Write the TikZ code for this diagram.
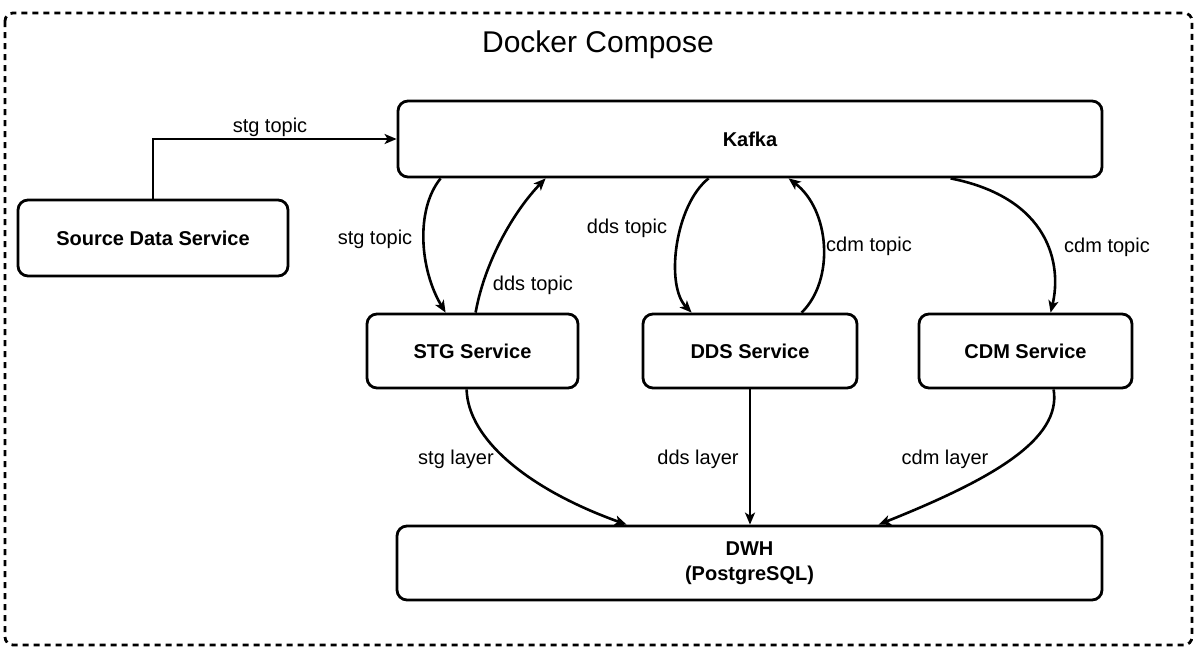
\documentclass[tikz,border=0pt]{standalone}
\usepackage{fontspec}
\setmainfont{Liberation Sans}
\usetikzlibrary{arrows.meta,calc}
\begin{document}
\begin{tikzpicture}[x=1pt,y=-1pt,
  box/.style={draw, line width=2.8pt, rounded corners=10pt, inner sep=0pt,
    font=\fontsize{20}{24}\selectfont\bfseries, align=center},
  lbl/.style={inner sep=0pt, font=\fontsize{20}{24}\selectfont},
  conn/.style={line width=2.6pt, -{Stealth[length=12pt,width=10pt,inset=3pt]}}]
\useasboundingbox (0,0) rectangle (1203,670);
\draw[line width=2.8pt, dash pattern=on 6pt off 5pt, rounded corners=8pt] (5,13) rectangle (1192,645);
\node[lbl, font=\fontsize{30}{36}\selectfont] (title) at (598,45) {Docker Compose};

\node[box, minimum width=704pt, minimum height=76pt] (kafka) at (750,139) {Kafka};
\node[box, minimum width=270pt, minimum height=76pt] (src) at (153,238) {Source Data Service};
\node[box, minimum width=211pt, minimum height=74pt] (stg) at (472.5,351) {STG Service};
\node[box, minimum width=214pt, minimum height=74pt] (dds) at (750,351) {DDS Service};
\node[box, minimum width=213pt, minimum height=74pt] (cdm) at (1025.5,351) {CDM Service};
\node[box, minimum width=705pt, minimum height=74pt, font=\fontsize{20}{25}\selectfont\bfseries] (dwh) at (749.5,563) {DWH\\(PostgreSQL)};

\draw[conn] (src.north) |- (kafka.west);
\draw[conn] ($(kafka.south west)+(44,0)$) .. controls (415,210) and (420,270) .. ($(stg.north west)+(80,0)$);
\draw[conn] ($(stg.north west)+(110,0)$) .. controls (485,260) and (515,210) .. ($(kafka.south west)+(149,0)$);
\draw[conn] ($(kafka.south west)+(312,0)$) .. controls (675,205) and (665,285) .. ($(dds.north west)+(50,0)$);
\draw[conn] ($(dds.north west)+(160,0)$) .. controls (835,280) and (830,210) .. ($(kafka.south west)+(392,0)$);
\draw[conn] ($(kafka.south west)+(554,0)$) .. controls (1050,198) and (1062,265) .. ($(cdm.north west)+(133,0)$);
\draw[conn] ($(stg.south west)+(101,0)$) .. controls (468,440) and (530,490) .. ($(dwh.north west)+(231,0)$);
\draw[conn] (dds.south) -- (dds.south |- dwh.north);
\draw[conn] ($(cdm.south west)+(136,0)$) .. controls (1062,440) and (990,480) .. ($(dwh.north west)+(483,0)$);

\node[lbl] (l1) at (270,127) {stg topic};
\node[lbl] (l2) at (375,239) {stg topic};
\node[lbl] (l3) at (533,285) {dds topic};
\node[lbl] (l4) at (627,228) {dds topic};
\node[lbl] (l5) at (869,246) {cdm topic};
\node[lbl] (l6) at (1107,247) {cdm topic};
\node[lbl] (l7) at (456,459) {stg layer};
\node[lbl] (l8) at (698,459) {dds layer};
\node[lbl] (l9) at (945,459) {cdm layer};
\end{tikzpicture}
\end{document}
